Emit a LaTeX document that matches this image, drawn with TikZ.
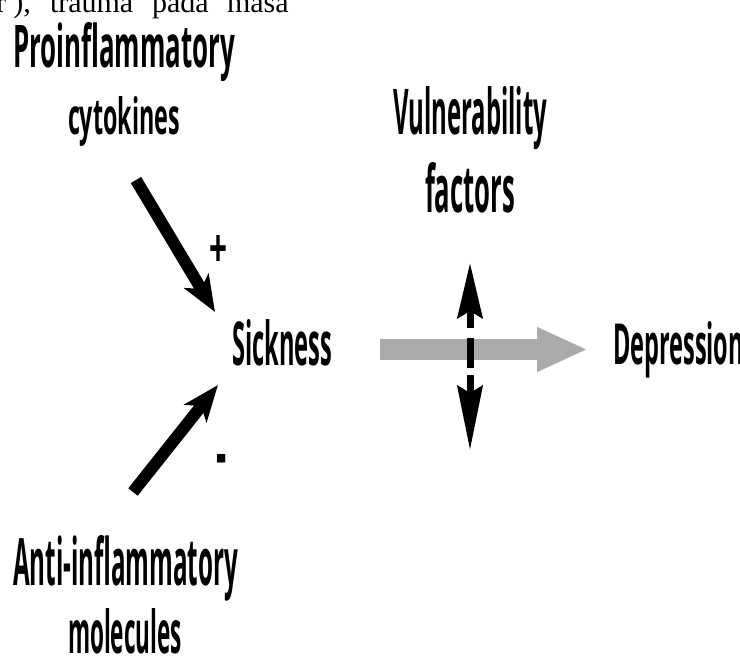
\documentclass[tikz,border=0pt]{standalone}
\usepackage{fontspec}
\usepackage{graphicx}
\setmainfont{Liberation Serif}
\newfontfamily\diafont{Open Sans}[BoldFont={* Bold}]
\usetikzlibrary{arrows.meta}
\definecolor{arrowgray}{RGB}{170,170,170}
\newcommand{\fitlabel}[3]{\resizebox{#1pt}{#2pt}{\diafont\bfseries #3}}
\tikzset{
  lbl/.style={inner sep=0pt, outer sep=0pt, anchor=base west},
  blackarrow/.style={line width=12pt, black,
    -{Stealth[length=36pt, width=28pt, inset=9pt]}},
  grayarrow/.style={line width=21pt, arrowgray,
    -{Triangle[length=51pt, width=41pt]}},
  darrow/.style={line width=7pt, black},
  dhead/.style={line width=7pt, black,
    -{Stealth[length=55pt, width=25pt, inset=7pt]}},
  serif/.style={inner sep=0pt, outer sep=0pt, anchor=base west,
    font=\fontsize{30}{36}\selectfont}
}
\begin{document}
\begin{tikzpicture}[x=1pt, y=-1pt]
\useasboundingbox (0,0) rectangle (740,663);
\fill[white] (0,0) rectangle (740,663);

% cropped running text at the top
\node[serif] (t1) at (-4,13) {r ),};
\node[serif] (t2) at (50,13) {trauma};
\node[serif] (t3) at (152,13) {pada};
\node[serif] (t4) at (227,13) {masa};

% labels
\node[lbl] (pro1) at (13,68) {\fitlabel{222}{45}{Proinflammatory}};
\node[lbl] (pro2) at (68,135) {\fitlabel{112}{38}{cytokines}};
\node[lbl] (vul1) at (393,135) {\fitlabel{154}{48}{Vulnerability}};
\node[lbl] (vul2) at (425,213) {\fitlabel{90}{50}{factors}};
\node[lbl] (sick) at (232,366) {\fitlabel{100}{46}{Sickness}};
\node[lbl] (dep) at (613,365) {\fitlabel{131}{43}{Depression}};
\node[lbl] (anti1) at (13,585) {\fitlabel{225}{50}{Anti-inflammatory}};
\node[lbl] (anti2) at (68,653) {\fitlabel{114}{45}{molecules}};

% signs
\node[inner sep=0pt] (plus) at (219,251) {\resizebox*{18pt}{32pt}{\diafont\bfseries +}};
\node[inner sep=0pt, anchor=base] (minus) at (222,477)
  {\diafont\bfseries\fontsize{70}{70}\selectfont\scalebox{0.45}[1]{-}};

% arrow end points
\coordinate (a1s) at (136,180);
\coordinate (a1e) at (215,312);
\coordinate (a2s) at (133,492);
\coordinate (a2e) at (218,385);
\coordinate (gs) at (380,349.5);
\coordinate (ge) at (588,349.5);
\coordinate (vt) at (470,263);
\coordinate (vtn) at (470,328);
\coordinate (vm1) at (470,338);
\coordinate (vm2) at (470,368);
\coordinate (vbn) at (470,375);
\coordinate (vb) at (470,450);

% arrows
\draw[blackarrow] (a1s) -- (a1e);
\draw[blackarrow] (a2s) -- (a2e);
\draw[grayarrow] (gs) -- (ge);
\draw[dhead] (vtn) -- (vt);
\draw[darrow] (vm1) -- (vm2);
\draw[dhead, -{Stealth[length=64pt, width=25pt, inset=7pt]}] (vbn) -- (vb);
\end{tikzpicture}
\end{document}
